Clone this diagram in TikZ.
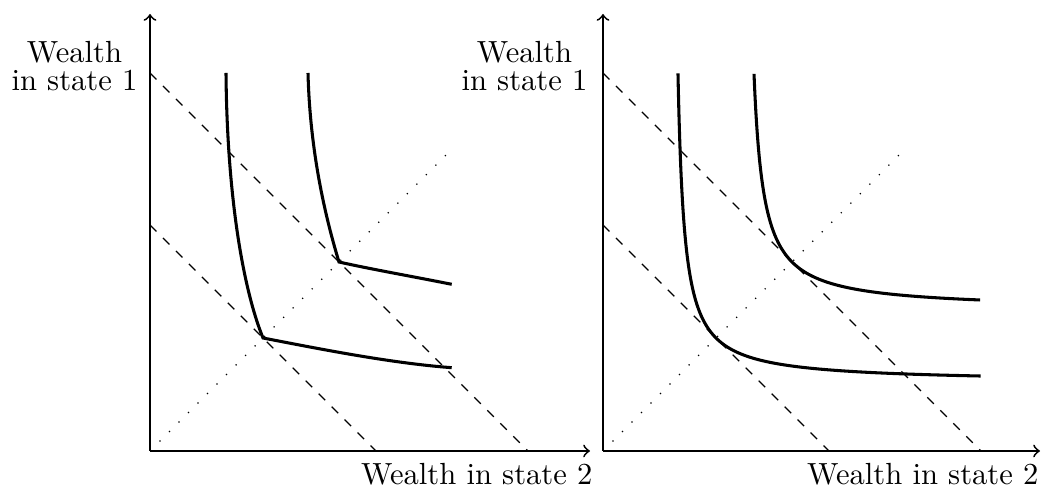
\documentclass[tikz,border=0pt]{standalone}
\usetikzlibrary{positioning}
\begin{document}
\begin{tikzpicture}[
  x=0.327pt, y=0.327pt,
  axis/.style={->, semithick},
  budget/.style={dashed},
  certainty/.style={loosely dotted},
  indiff/.style={line width=1pt, line join=miter},
  lbl/.style={inner sep=0pt, align=center}
]
\useasboundingbox (-150,-36) rectangle (891,451);
% Left panel: kinked indifference curves
\coordinate (O1) at (0,0);
\coordinate (X1) at (440,0);
\coordinate (Y1) at (0,437);
\draw[axis] (O1)--(X1);
\draw[axis] (O1)--(Y1);
\node[lbl, anchor=north east] (xlab1) at (443,-12) {Wealth in state 2};
\node[lbl, anchor=north east] (ylab1) at (-12,410) {Wealth\\[-2.8pt] in state 1};
\draw[budget] (0,378)--(378,0);
\draw[budget] (0,226)--(226,0);
\draw[certainty] (O1)--(302,302);
\coordinate (kinkA) at (113,113);
\coordinate (kinkB) at (189,189);
\draw[indiff] (76,378) .. controls (77,260) and (92,165) .. (kinkA)
  .. controls (170,102) and (240,88) .. (301.7,83.3);
\draw[indiff] (158,378) .. controls (160,300) and (175,235) .. (kinkB)
  .. controls (220,182) and (260,175) .. (301.7,166.7);
% Right panel: smooth indifference curves
\begin{scope}[shift={(453,0)}]
\coordinate (O2) at (0,0);
\coordinate (X2) at (437,0);
\coordinate (Y2) at (0,437);
\draw[axis] (O2)--(X2);
\draw[axis] (O2)--(Y2);
\node[lbl, anchor=north east] (xlab2) at (436,-12) {Wealth in state 2};
\node[lbl, anchor=north east] (ylab2) at (-15,410) {Wealth\\[-2.8pt] in state 1};
\draw[budget] (0,378)--(378,0);
\draw[budget] (0,226)--(226,0);
\draw[certainty] (O2)--(302,302);
\draw[indiff] plot[domain=-1.94:1.94, samples=90, smooth, variable=\t] ({68.6+44.4*exp(\t)}, {68.6+44.4*exp(-\t)});
\draw[indiff] plot[domain=-1.6:1.6, samples=90, smooth, variable=\t] ({141.4+47.6*exp(\t)}, {141.4+47.6*exp(-\t)});
\end{scope}
\end{tikzpicture}
\end{document}
